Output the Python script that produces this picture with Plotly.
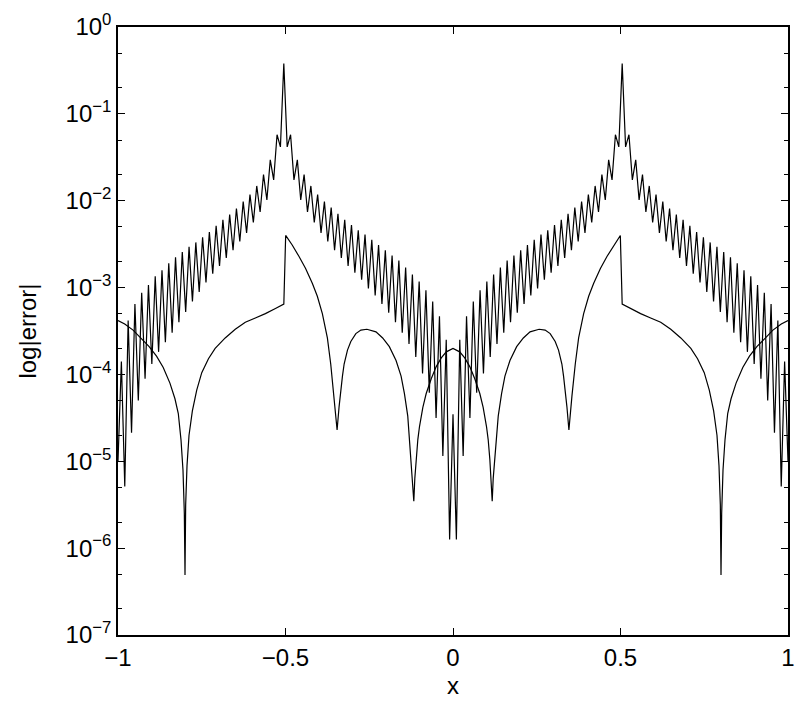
import numpy as np
import plotly.graph_objects as go

# ---- oscillating error curve (log10 values), read for x >= 0, mirrored for x < 0
# samples on a uniform grid of 199 points over [-1, 1]; even offsets from 0 = local peaks, odd = troughs
osc_peaks_log = [-4.46, -3.60, -3.33, -3.16, -3.03, -2.93, -2.85, -2.77, -2.69, -2.63,
                 -2.57, -2.51, -2.45, -2.39, -2.34, -2.28, -2.22, -2.15, -2.08, -2.01,
                 -1.93, -1.83, -1.70, -1.53, -1.24, -0.42, -1.24, -1.53, -1.70, -1.83,
                 -1.93, -2.01, -2.09, -2.16, -2.22, -2.29, -2.36, -2.42, -2.48, -2.53,
                 -2.59, -2.65, -2.72, -2.80, -2.87, -2.97, -3.06, -3.19, -3.38, -3.85]
osc_troughs_log = [-5.90, -4.94, -4.50, -4.21, -3.99, -3.80, -3.65, -3.52, -3.40, -3.29,
                   -3.19, -3.09, -3.01, -2.91, -2.83, -2.75, -2.66, -2.57, -2.47, -2.37,
                   -2.25, -2.13, -1.99, -1.76, -1.38, -1.38, -1.76, -1.99, -2.13, -2.25,
                   -2.37, -2.47, -2.57, -2.66, -2.75, -2.84, -2.94, -3.05, -3.16, -3.28,
                   -3.40, -3.52, -3.63, -3.74, -3.88, -4.05, -4.30, -4.67, -5.29, -5.00]
osc_n_samples = 199

# ---- smooth error curve (x >= 0, log10 values), mirrored for x < 0
smooth_x_right = [0.0, 0.02, 0.035, 0.05, 0.065, 0.08, 0.09, 0.10, 0.105, 0.11, 0.114, 0.117,
                  0.120, 0.125, 0.135, 0.145, 0.155, 0.17, 0.19, 0.21, 0.23, 0.257, 0.275,
                  0.29, 0.305, 0.315, 0.325, 0.33, 0.336, 0.34, 0.346, 0.35, 0.355, 0.365,
                  0.375, 0.39, 0.405, 0.42, 0.44, 0.46, 0.48, 0.4995, 0.505, 0.53, 0.56,
                  0.59, 0.62, 0.65, 0.68, 0.71, 0.73, 0.75, 0.765, 0.778, 0.788, 0.794,
                  0.798, 0.800, 0.802, 0.806, 0.812, 0.82, 0.83, 0.845, 0.865, 0.885,
                  0.907, 0.93, 0.955, 0.98, 1.0]
smooth_log_right = [-3.70, -3.74, -3.81, -3.91, -4.05, -4.22, -4.38, -4.60, -4.75, -4.98, -5.20, -5.46,
                    -5.20, -4.98, -4.48, -4.22, -4.02, -3.84, -3.68, -3.58, -3.51, -3.48, -3.49,
                    -3.53, -3.62, -3.72, -3.88, -4.02, -4.20, -4.37, -4.64, -4.45, -4.25, -3.88,
                    -3.58, -3.30, -3.10, -2.95, -2.78, -2.64, -2.51, -2.40, -3.19, -3.24, -3.30,
                    -3.35, -3.40, -3.48, -3.58, -3.70, -3.82, -3.98, -4.18, -4.42, -4.70, -5.05,
                    -5.50, -6.31, -5.60, -5.10, -4.75, -4.45, -4.28, -4.10, -3.92, -3.79,
                    -3.68, -3.59, -3.49, -3.42, -3.38]

ytick_exps = [0, -1, -2, -3, -4, -5, -6, -7]
xtick_vals = [-1, -0.5, 0, 0.5, 1]
xtick_text = ["\u22121", "\u22120.5", "0", "0.5", "1"]

# ---- build traces
x_osc = np.linspace(-1, 1, osc_n_samples)
half = (osc_n_samples - 1) // 2
y_osc = []
for i in range(osc_n_samples):
    m = abs(i - half)
    v = osc_peaks_log[m // 2] if m % 2 == 0 else osc_troughs_log[(m - 1) // 2]
    y_osc.append(10 ** v)

sx = [-v for v in smooth_x_right[::-1]] + smooth_x_right[1:]
sl = smooth_log_right[::-1] + smooth_log_right[1:]
sy = [10 ** v for v in sl]

fig = go.Figure()
fig.add_trace(go.Scatter(x=x_osc, y=y_osc, mode="lines",
                         line=dict(color="black", width=1.2), showlegend=False))
fig.add_trace(go.Scatter(x=sx, y=sy, mode="lines",
                         line=dict(color="black", width=1.2), showlegend=False))

font = dict(family="Liberation Sans, Arial, Helvetica, sans-serif", size=24, color="black")

fig.update_layout(
    width=797, height=707,
    margin=dict(l=118, r=9, t=27, b=72, autoexpand=False),
    paper_bgcolor="white", plot_bgcolor="white",
    font=font,
    showlegend=False,
)
fig.update_xaxes(
    range=[-1, 1], tickvals=xtick_vals, ticktext=xtick_text, automargin=False,
    showgrid=False, zeroline=False, showline=True, linecolor="black", linewidth=1.5,
    mirror="ticks", ticks="inside", ticklen=7, tickwidth=1, tickcolor="black",
    title=dict(text="x", standoff=8, font=font),
)
fig.update_yaxes(
    type="log", range=[-7, 0], automargin=False,
    tickvals=[10 ** e for e in ytick_exps],
    ticktext=["10<sup>%s</sup>" % (str(e).replace("-", "\u2212")) for e in ytick_exps],
    showgrid=False, zeroline=False, showline=True, linecolor="black", linewidth=1.5,
    mirror="ticks", ticks="inside", ticklen=7, tickwidth=1, tickcolor="black",
    minor=dict(ticks="inside", ticklen=4, tickwidth=1, tickcolor="black", showgrid=False),
    title=dict(text="log|error|", standoff=22, font=font),
)

fig.write_html("out.html")
